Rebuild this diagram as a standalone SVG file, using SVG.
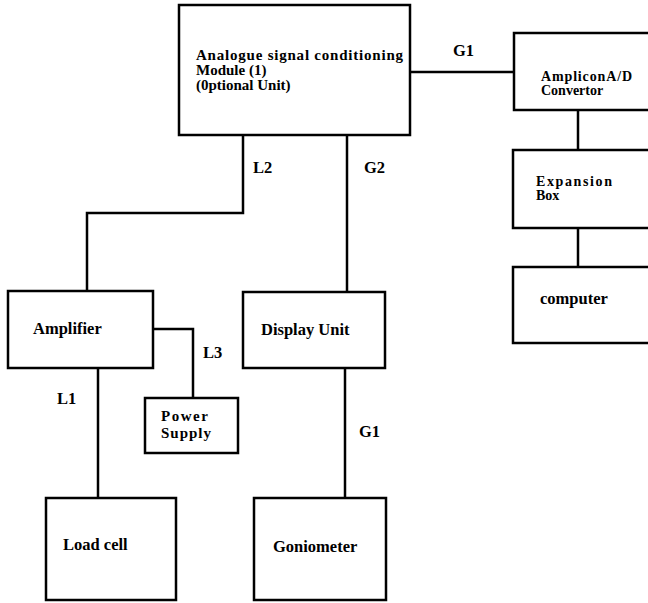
<svg xmlns="http://www.w3.org/2000/svg" width="648" height="603" viewBox="0 0 648 603">
  <style>
    .box { fill: #ffffff; stroke: #000000; stroke-width: 2.5; }
    .wire { fill: none; stroke: #000000; stroke-width: 2.5; stroke-linejoin: miter; }
    text { font-family: "Liberation Serif", "Times New Roman", serif; font-weight: bold; font-size: 16.5px; fill: #000000; }
    .multi { font-size: 15px; }
    .tight { font-size: 14px; }
  </style>
  <rect x="0" y="0" width="648" height="603" fill="#ffffff"/>

  <!-- connectors -->
  <g id="connectors">
    <path class="wire" d="M410 72 H514"/>
    <path class="wire" d="M578 110 V150"/>
    <path class="wire" d="M578 228 V267"/>
    <path class="wire" d="M243 135 V213 H87 V291"/>
    <path class="wire" d="M347 135 V292"/>
    <path class="wire" d="M153 329 H193 V398"/>
    <path class="wire" d="M98 368 V498"/>
    <path class="wire" d="M345 368 V498"/>
    <text x="453" y="56">G1</text>
    <text x="253" y="173">L2</text>
    <text x="364" y="173">G2</text>
    <text x="203" y="358">L3</text>
    <text x="57" y="404">L1</text>
    <text x="359" y="437">G1</text>
  </g>

  <g id="conditioning-module">
    <rect class="box" x="179" y="5" width="231" height="130"/>
    <text class="multi" x="196" y="60" textLength="207" lengthAdjust="spacing">Analogue signal conditioning</text>
    <text class="multi" x="196" y="75">Module (1)</text>
    <text class="multi" x="196" y="90">(0ptional Unit)</text>
  </g>

  <g id="ad-convertor">
    <rect class="box" x="514" y="33" width="150" height="77"/>
    <text class="tight" x="541" y="81" textLength="91" lengthAdjust="spacing">AmpliconA/D</text>
    <text class="tight" x="541" y="95">Convertor</text>
  </g>

  <g id="expansion-box">
    <rect class="box" x="513" y="150" width="150" height="78"/>
    <text class="tight" x="536" y="186" textLength="76" lengthAdjust="spacing">Expansion</text>
    <text class="tight" x="536" y="200">Box</text>
  </g>

  <g id="computer">
    <rect class="box" x="513" y="267" width="150" height="76"/>
    <text x="540" y="304">computer</text>
  </g>

  <g id="amplifier">
    <rect class="box" x="8" y="291" width="145" height="77"/>
    <text x="33" y="334">Amplifier</text>
  </g>

  <g id="display-unit">
    <rect class="box" x="243" y="292" width="142" height="76"/>
    <text x="261" y="335">Display Unit</text>
  </g>

  <g id="power-supply">
    <rect class="box" x="145" y="398" width="93" height="55"/>
    <text class="multi" x="161" y="421" textLength="47" lengthAdjust="spacing">Power</text>
    <text class="multi" x="161" y="438" textLength="50" lengthAdjust="spacing">Supply</text>
  </g>

  <g id="load-cell">
    <rect class="box" x="46" y="498" width="130" height="102"/>
    <text x="63" y="550">Load cell</text>
  </g>

  <g id="goniometer">
    <rect class="box" x="254" y="498" width="132" height="102"/>
    <text x="273" y="552">Goniometer</text>
  </g>
</svg>
